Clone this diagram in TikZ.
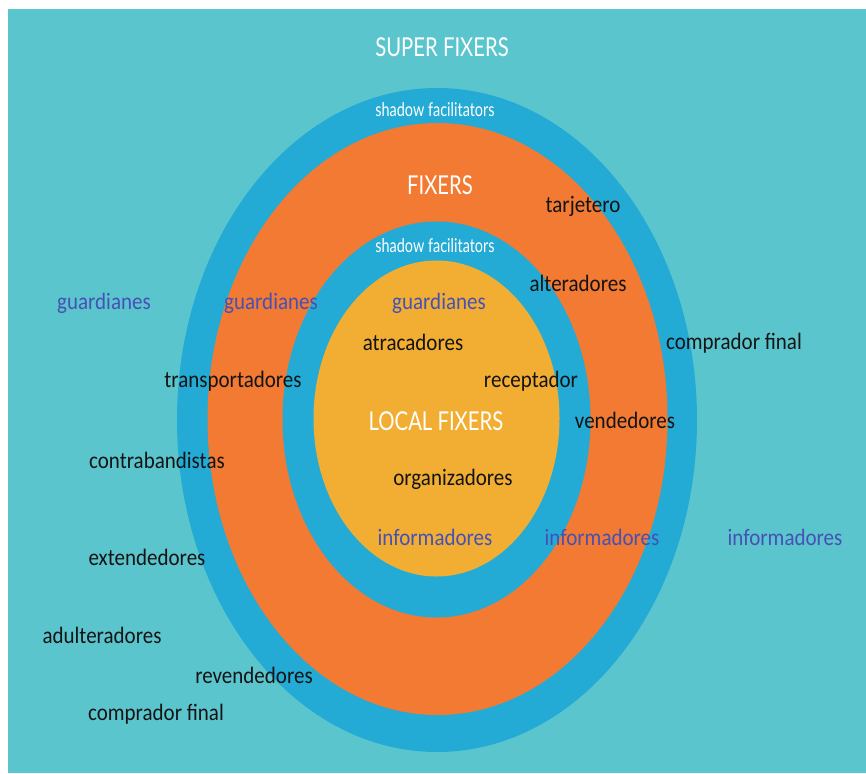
\documentclass[tikz,border=0pt]{standalone}
\usepackage{fontspec}
\setmainfont{Carlito}
\newfontfamily\latofont{Lato}
\definecolor{tealbg}{HTML}{5BC5CE}
\definecolor{ringblue}{HTML}{23ABD5}
\definecolor{ringorange}{HTML}{F27A33}
\definecolor{coreyellow}{HTML}{F2AE33}
\definecolor{inkblue}{HTML}{4651B5}
\definecolor{inkblack}{HTML}{141414}

\begin{document}
\begin{tikzpicture}[x=1pt, y=-1pt,
		lbl/.style={font=\fontsize{21}{25}\selectfont, text=inkblack, inner sep=0pt, yscale=1.12},
		blu/.style={lbl, text=inkblue},
		wht/.style={font=\latofont\fontsize{26}{30}\selectfont, text=white, inner sep=0pt, xscale=0.78},
		sml/.style={font=\latofont\fontsize{19}{22}\selectfont, text=white, inner sep=0pt, xscale=0.76}]
			\fill[white] (0,0) rectangle (866,773);
			\useasboundingbox (0,0) rectangle (866,773);
			\fill[tealbg] (8,9) rectangle (866,773);

			% rings, outside in
			\fill[ringblue] (437,420) ellipse [x radius=260, y radius=332];
			\fill[ringorange] (437.5,419) ellipse [x radius=230, y radius=296];
			\fill[ringblue] (436.5,419.5) ellipse [x radius=154, y radius=198];
			\fill[coreyellow] (436.5,418.5) ellipse [x radius=123, y radius=158];

			% level names
			\node (super)[wht] at (442,47) {SUPER FIXERS};
			\node (shadowout)[sml] at (435,110) {shadow facilitators};
			\node (fixers)[wht] at (440,185) {FIXERS};
			\node (shadowin)[sml] at (435,246) {shadow facilitators};
			\node (local)[wht] at (436,421) {LOCAL FIXERS};

			% actors
			\node (tarjetero)[lbl] at (583,206) {tarjetero};
			\node (alteradores)[lbl] at (578,283) {alteradores};
			\node (guardA)[blu] at (104,303) {guardianes};
			\node (guardB)[blu] at (271,303) {guardianes};
			\node (guardC)[blu] at (439,303) {guardianes};
			\node (compradorA)[lbl] at (734,343) {comprador final};
			\node (atracadores)[lbl] at (413,342) {atracadores};
			\node (transport)[lbl] at (233,381) {transportadores};
			\node (receptador)[lbl] at (531,381) {receptador};
			\node (vendedores)[lbl] at (625,420) {vendedores};
			\node (contraband)[lbl] at (157,460) {contrabandistas};
			\node (organiz)[lbl] at (453,479) {organizadores};
			\node (infoC)[blu] at (435,537) {informadores};
			\node (infoB)[blu] at (602,537) {informadores};
			\node (infoA)[blu] at (785,537) {informadores};
			\node (extend)[lbl] at (147,557) {extendedores};
			\node (adulter)[lbl] at (102,635) {adulteradores};
			\node (revend)[lbl] at (254,675) {revendedores};
			\node (compradorB)[lbl] at (156,714) {comprador final};
		\end{tikzpicture}
\end{document}
